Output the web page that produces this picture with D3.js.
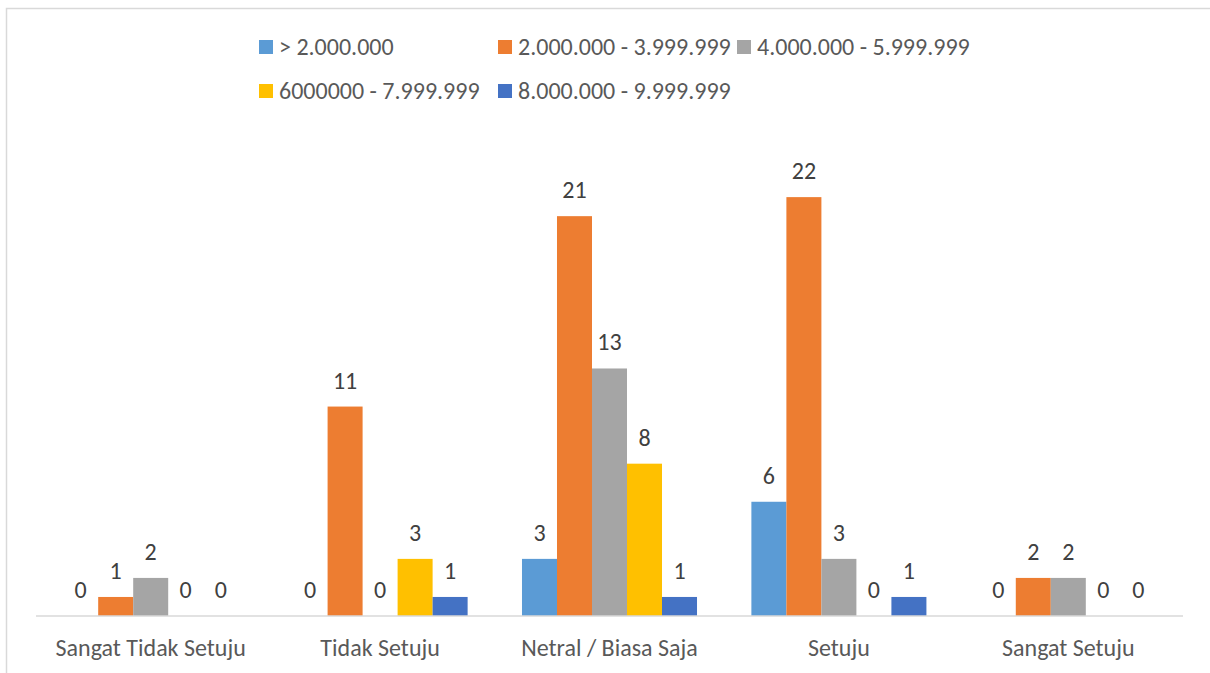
<!DOCTYPE html>
<html>
<head>
<meta charset="utf-8">
<script src="https://cdn.jsdelivr.net/npm/d3@7"></script>
<style>
  html, body { margin: 0; padding: 0; background: #fff; }
  svg { display: block; }
  text { font-family: Carlito, Calibri, "Open Sans", sans-serif; }
</style>
</head>
<body>
<svg id="chart" width="1210" height="673"></svg>
<script>
const categories = ["Sangat Tidak Setuju", "Tidak Setuju", "Netral / Biasa Saja", "Setuju", "Sangat Setuju"];
const seriesNames = ["> 2.000.000", "2.000.000 - 3.999.999", "4.000.000 - 5.999.999", "6000000 - 7.999.999", "8.000.000 - 9.999.999"];
const seriesColors = ["#5B9BD5", "#ED7D31", "#A5A5A5", "#FFC000", "#4472C4"];
const s1 = [0, 0, 3, 6, 0];
const s2 = [1, 11, 21, 22, 2];
const s3 = [2, 0, 13, 3, 2];
const s4 = [0, 3, 8, 0, 0];
const s5 = [0, 1, 1, 1, 0];
const seriesValues = [s1, s2, s3, s4, s5];

const svg = d3.select("#chart");
const W = 1210, H = 673;

// outer border
svg.append("rect").attr("x", 6.5).attr("y", 8.5).attr("width", W + 10).attr("height", H + 10)
  .attr("fill", "none").attr("stroke", "#d9d9d9").attr("stroke-width", 1.5);

const plot = { left: 36, right: 1183, top: 140, bottom: 616 };

const x0 = d3.scaleBand().domain(categories).range([plot.left, plot.right])
  .paddingInner(0.237).paddingOuter(0.1185);
const x1 = d3.scaleBand().domain(seriesNames).range([0, x0.bandwidth()]);
const y = d3.scaleLinear().domain([0, 25]).range([plot.bottom, plot.top]);

const data = [];
categories.forEach((c, ci) => {
  seriesNames.forEach((s, si) => {
    data.push({ cat: c, series: s, value: seriesValues[si][ci], color: seriesColors[si] });
  });
});

const g = svg.append("g");
g.selectAll("rect.bar").data(data).enter().append("rect")
  .attr("class", "bar")
  .attr("x", d => x0(d.cat) + x1(d.series))
  .attr("y", d => y(d.value))
  .attr("width", x1.bandwidth())
  .attr("height", d => y(0) - y(d.value))
  .attr("fill", d => d.color);

g.selectAll("text.lbl").data(data).enter().append("text")
  .attr("class", "lbl")
  .attr("x", d => x0(d.cat) + x1(d.series) + x1.bandwidth() / 2)
  .attr("y", d => y(d.value) - 18)
  .attr("text-anchor", "middle")
  .attr("font-size", 24)
  .attr("fill", "#404040")
  .text(d => d.value);

// axis
const xAxis = d3.axisBottom(x0).tickSize(0).tickPadding(0);
const ax = svg.append("g").attr("transform", `translate(0,${plot.bottom})`).call(xAxis);
ax.select(".domain").attr("stroke", "#d9d9d9").attr("stroke-width", 1.5).attr("d", `M${plot.left},0H${plot.right}`);
ax.selectAll(".tick text").attr("font-size", 24).attr("fill", "#595959")
  .attr("dy", 0).attr("y", 40)
  .style("font-family", 'Carlito, Calibri, "Open Sans", sans-serif');

// legend
const legendPos = [[259, 40], [498, 40], [737, 40], [259, 84], [498, 84]];
const lg = svg.append("g");
seriesNames.forEach((s, i) => {
  const [lx, ly] = legendPos[i];
  lg.append("rect").attr("x", lx).attr("y", ly).attr("width", 14).attr("height", 14).attr("fill", seriesColors[i]);
  lg.append("text").attr("x", lx + 20).attr("y", ly + 15).attr("font-size", 24)
    .attr("fill", "#595959").text(s);
});
</script>
</body>
</html>
